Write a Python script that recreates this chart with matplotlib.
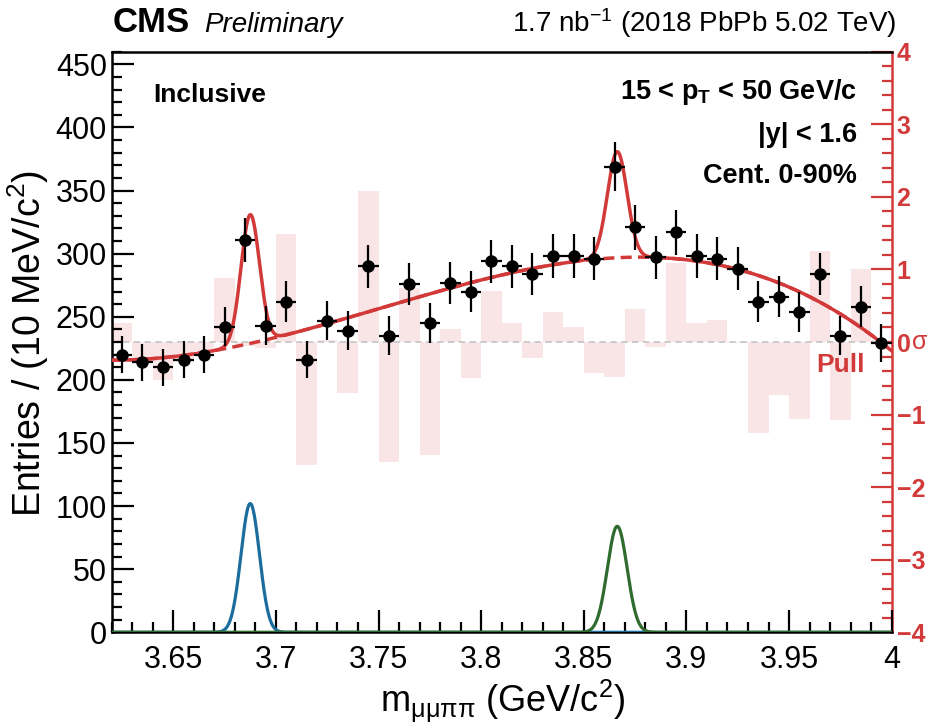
import numpy as np
import matplotlib
matplotlib.use("Agg")
import matplotlib.pyplot as plt
from matplotlib.ticker import MultipleLocator, FuncFormatter

# binned data, 10 MeV bins from 3.62 to 4.00 GeV
bin_low = 3.62
bin_width = 0.01
counts = [220, 214, 210, 216, 220, 242, 311, 243, 262, 216,
          247, 239, 290, 235, 276, 245, 277, 270, 294, 290,
          284, 298, 298, 296, 369, 321, 297, 317, 298, 296,
          288, 262, 266, 254, 284, 235, 258, 229]
pulls = [0.26, -0.25, -0.53, -0.28, -0.12, 0.88, -0.05, -0.08, 1.49, -1.69,
         0.03, -0.70, 2.08, -1.65, 0.74, -1.56, 0.18, -0.49, 0.70, 0.26,
         -0.22, 0.42, 0.20, -0.43, -0.48, 0.45, -0.07, 1.09, 0.26, 0.30,
         -0.02, -1.26, -0.73, -1.06, 1.25, -1.07, 1.00, -0.03]

# background level
bg_mass = [3.620, 3.652, 3.668, 3.684, 3.696, 3.712, 3.760, 3.809, 3.845,
           3.873, 3.886, 3.905, 3.926, 3.951, 3.975, 3.995, 4.000]
bg_level = [215.7, 218.4, 222.9, 227.6, 231.6, 239.5, 260.6, 283.0, 293.6,
            297.1, 296.8, 293.6, 287.0, 275.0, 250.0, 229.4, 223.6]

# signal peaks: psi(2S) and X(3872)
peak_mean = [3.6875, 3.8663]
peak_sigma = [0.0045, 0.0048]
peak_height = [102, 84]
peak_colors = ["#1b6d9e", "#2f6b2f"]

red = "#d23a3a"
pink = "#f9e5e5"

plt.rcParams["font.family"] = ["Liberation Sans", "DejaVu Sans"]
plt.rcParams["mathtext.fontset"] = "custom"
plt.rcParams["mathtext.rm"] = "Liberation Sans"
plt.rcParams["mathtext.it"] = "Liberation Sans:italic"
plt.rcParams["mathtext.bf"] = "Liberation Sans:bold"
plt.rcParams["mathtext.default"] = "regular"

W, H = 932, 724


def fx(px):
    return px / W


def fy(py):
    return 1 - py / H


counts = np.array(counts, dtype=float)
centers = bin_low + bin_width * (np.arange(len(counts)) + 0.5)

fig = plt.figure(figsize=(W / 100, H / 100), dpi=100)
ax = fig.add_axes([fx(111.7), fy(632.3), 780 / W, 580.6 / H])
ax2 = ax.twinx()
ax.set_zorder(ax2.get_zorder() + 1)
ax.patch.set_visible(False)

# pull histogram behind everything
ax2.bar(centers, pulls, width=bin_width, color=pink, edgecolor="none", zorder=1)
ax2.axhline(0, color="#c8c8c8", lw=1.3, dashes=(3.5, 2.5), zorder=2)
ax2.set_ylim(-4, 4)

# fit model
m = np.linspace(3.62, 4.0, 1500)
coef = np.polyfit(np.array(bg_mass) - 3.8, bg_level, 5)
bkg = np.polyval(coef, m - 3.8)
sig = [peak_height[i] * np.exp(-0.5 * ((m - peak_mean[i]) / peak_sigma[i]) ** 2)
       for i in range(len(peak_mean))]
total = bkg + sig[0] + sig[1]

for i in range(len(sig)):
    ax.plot(m, sig[i], color=peak_colors[i], lw=2.3, zorder=3)
ax.plot(m, bkg, color=red, lw=2.5, dashes=(3.2, 1.8), zorder=3)
ax.plot(m, total, color=red, lw=2.5, zorder=4)

ax.errorbar(centers, counts, yerr=np.sqrt(counts), xerr=bin_width / 2,
            fmt="o", color="black", ms=8, elinewidth=1.6, capsize=0, zorder=5)

ax.set_xlim(3.62, 4.0)
ax.set_ylim(0, 460)

# left / bottom axes, ROOT style ticks
ax.xaxis.set_major_locator(MultipleLocator(0.05))
ax.xaxis.set_minor_locator(MultipleLocator(0.01))
ax.yaxis.set_major_locator(MultipleLocator(50))
ax.yaxis.set_minor_locator(MultipleLocator(10))
ax.xaxis.set_major_formatter(FuncFormatter(lambda v, p: "%g" % round(v, 3)))
ax.tick_params(which="both", direction="in", top=False, right=False, width=1.6)
ax.tick_params(which="major", length=15.5, labelsize=22)
ax.tick_params(which="minor", length=7.5)
ax.tick_params(axis="x", which="major", pad=9)
ax.tick_params(axis="y", which="major", pad=3.5)
for s in ["left", "bottom", "top"]:
    ax.spines[s].set_linewidth(1.8)
ax.spines["right"].set_visible(False)

# right pull axis
ax2.yaxis.set_major_locator(MultipleLocator(1))
ax2.yaxis.set_minor_locator(MultipleLocator(0.2))
ax2.yaxis.set_major_formatter(FuncFormatter(lambda v, p: ("%d" % v).replace("-", "\u2212")))
ax2.tick_params(which="both", direction="in", color=red, width=1.6, labelcolor=red)
ax2.tick_params(which="major", length=15, labelsize=18, pad=3.5)
ax2.tick_params(which="minor", length=7.5)
for lab in ax2.get_yticklabels():
    lab.set_fontweight("bold")
for s in ["left", "bottom", "top"]:
    ax2.spines[s].set_visible(False)
ax2.spines["right"].set_color(red)
ax2.spines["right"].set_linewidth(1.8)

# labels and annotations
fig.text(fx(28), fy(343), "Entries / (10 MeV/c$^{2}$)", rotation=90,
         ha="center", va="center", fontsize=27)
fig.text(fx(503), fy(712), r"m$_{\mathrm{\mu\mu\pi\pi}}$ (GeV/c$^{2}$)",
         ha="center", va="baseline", fontsize=26)

fig.text(fx(113), fy(32), "CMS", fontweight="bold", fontsize=25, va="baseline")
fig.text(fx(204), fy(32), "Preliminary", style="italic", fontsize=20, va="baseline")
fig.text(fx(897), fy(32), "1.7 nb$^{-1}$ (2018 PbPb 5.02 TeV)", ha="right",
         fontsize=20, va="baseline")

fig.text(fx(153), fy(101.7), "Inclusive", fontweight="bold", fontsize=19, va="baseline")
fig.text(fx(857), fy(99.3), r"15 < p$_{\mathbf{T}}$ < 50 GeV/c", fontweight="bold",
         fontsize=19.5, ha="right", va="baseline")
fig.text(fx(857), fy(141.7), "|y| < 1.6", fontweight="bold", fontsize=19.5,
         ha="right", va="baseline")
fig.text(fx(857), fy(183.3), "Cent. 0-90%", fontweight="bold", fontsize=19.5,
         ha="right", va="baseline")
fig.text(fx(816.7), fy(371.7), "Pull", fontweight="bold", fontsize=19, color=red,
         va="baseline")
fig.text(fx(912), fy(341.7), "\u03c3", fontsize=18, color=red, va="center")

fig.savefig("out.png", dpi=100)
